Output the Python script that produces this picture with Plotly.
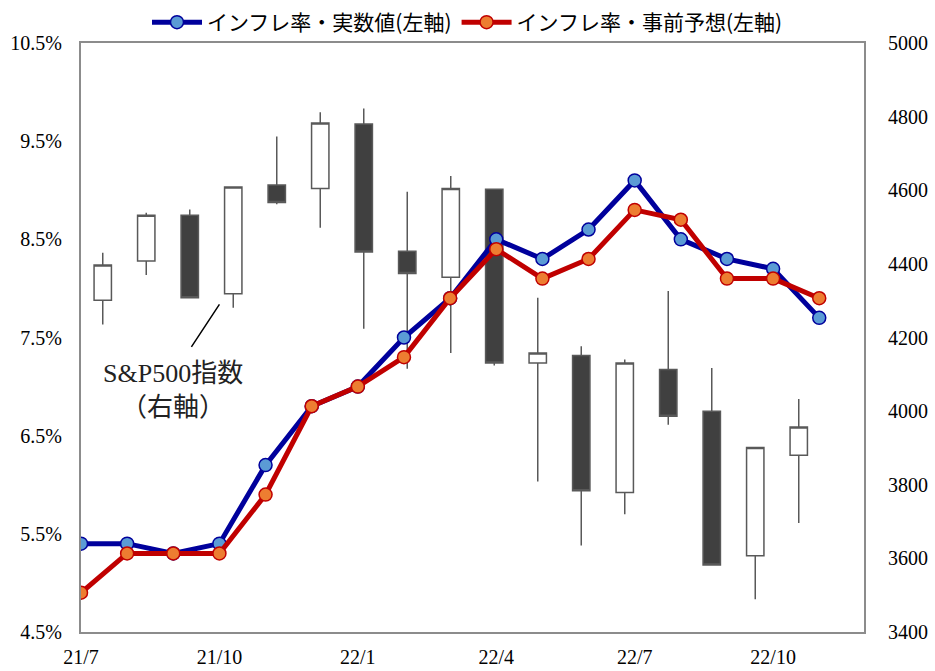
import plotly.graph_objects as go

# Month labels (release month), candles and inflation lines share them
MONTHS = ["21/7", "21/8", "21/9", "21/10", "21/11", "21/12",
          "22/1", "22/2", "22/3", "22/4", "22/5", "22/6",
          "22/7", "22/8", "22/9", "22/10", "22/11"]
TICK_MONTHS = ["21/7", "21/10", "22/1", "22/4", "22/7", "22/10"]

# US CPI inflation, % y/y (left axis)
CPI_ACTUAL   = [5.4, 5.4, 5.3, 5.4, 6.2, 6.8, 7.0, 7.5, 7.9, 8.5, 8.3, 8.6, 9.1, 8.5, 8.3, 8.2, 7.7]
CPI_FORECAST = [4.9, 5.3, 5.3, 5.3, 5.9, 6.8, 7.0, 7.3, 7.9, 8.4, 8.1, 8.3, 8.8, 8.7, 8.1, 8.1, 7.9]

# S&P500 monthly OHLC (right axis)
SP_OPEN  = [4301, 4408, 4532, 4319, 4614, 4605, 4780, 4434, 4364, 4603, 4131, 4151, 3779, 4113, 4000, 3607, 3880]
SP_HIGH  = [4430, 4539, 4548, 4609, 4746, 4812, 4822, 4596, 4639, 4603, 4308, 4176, 4140, 4326, 4117, 3903, 4033]
SP_LOW   = [4235, 4370, 4308, 4281, 4562, 4498, 4224, 4115, 4158, 4124, 3809, 3635, 3720, 3963, 3582, 3489, 3696]
SP_CLOSE = [4397, 4532, 4308, 4609, 4567, 4783, 4432, 4374, 4605, 4131, 4158, 3784, 4131, 3986, 3582, 3901, 3957]

BLUE_LINE   = "#00009c"
BLUE_MARK   = "#5b9bd5"
RED_LINE    = "#c00000"
RED_MARK    = "#ed7d31"
CANDLE_DARK = "#404040"
CANDLE_EDGE = "#595959"
FRAME       = "#8c8c8c"

SERIF = "Liberation Serif, Noto Sans CJK JP, serif"
GOTHIC = "Noto Sans CJK JP, sans-serif"

fig = go.Figure()

# ── candles: right axis, 18 category slots (last one empty) ──────────────
fig.add_trace(go.Candlestick(
    x=MONTHS, open=SP_OPEN, high=SP_HIGH, low=SP_LOW, close=SP_CLOSE,
    xaxis="x", yaxis="y",
    increasing=dict(fillcolor="white", line=dict(color=CANDLE_EDGE, width=1.5)),
    decreasing=dict(fillcolor=CANDLE_DARK, line=dict(color=CANDLE_EDGE, width=1.5)),
    whiskerwidth=0,
    showlegend=False,
    hoverinfo="skip",
))

# ── inflation lines: left axis ─────────────────────────────────────────
fig.add_trace(go.Scatter(
    x=MONTHS, y=CPI_ACTUAL, xaxis="x2", yaxis="y2",
    name="インフレ率・実数値(左軸)",
    mode="lines+markers",
    line=dict(color=BLUE_LINE, width=5),
    marker=dict(size=13, color=BLUE_MARK, line=dict(color=BLUE_LINE, width=1.5)),
))
fig.add_trace(go.Scatter(
    x=MONTHS, y=CPI_FORECAST, xaxis="x2", yaxis="y2",
    name="インフレ率・事前予想(左軸)",
    mode="lines+markers",
    line=dict(color=RED_LINE, width=5),
    marker=dict(size=13, color=RED_MARK, line=dict(color=RED_LINE, width=1.5)),
))

# annotation with leader line
fig.add_annotation(
    x="21/10", y=4290, xref="x2", yref="y",
    ax=-29, ay=44, text="", showarrow=True,
    arrowhead=0, arrowwidth=1.5, arrowcolor="black",
)
fig.add_annotation(
    x="21/9", y=4055, xref="x2", yref="y",
    text="S&P500指数<br>（右軸）", showarrow=False,
    font=dict(family=SERIF, size=26, color="#222"),
)

tickfont = dict(family=SERIF, size=20, color="black")

fig.update_layout(
    width=935, height=671,
    paper_bgcolor="white", plot_bgcolor="white",
    margin=dict(l=81, r=71, t=43, b=39, autoexpand=False),
    boxgap=0.43,
    xaxis=dict(
        type="category", categoryorder="array", categoryarray=MONTHS,
        range=[-0.5, 17.5], showticklabels=False, ticks="",
        showgrid=False, zeroline=False, automargin=False,
        showline=True, mirror=True, linecolor=FRAME, linewidth=2,
        rangeslider=dict(visible=False),
    ),
    xaxis2=dict(
        type="category", categoryorder="array", categoryarray=MONTHS,
        overlaying="x", anchor="y2", side="bottom",
        range=[0, 16.97], tickmode="array", tickvals=TICK_MONTHS, ticktext=TICK_MONTHS,
        ticks="", showgrid=False, zeroline=False, showline=False, automargin=False,
        tickfont=tickfont, ticklabelstandoff=11,
    ),
    yaxis=dict(
        side="right", range=[3400, 5000], dtick=200, tick0=3400,
        ticks="", showgrid=False, zeroline=False, automargin=False,
        showline=True, mirror=True, linecolor=FRAME, linewidth=2,
        tickfont=tickfont, ticklabelstandoff=18,
    ),
    yaxis2=dict(
        side="left", overlaying="y", anchor="x2",
        range=[4.5, 10.5], dtick=1, tick0=4.5, tickformat=".1f", ticksuffix="%",
        ticks="", showgrid=False, zeroline=False, showline=False, automargin=False,
        tickfont=tickfont, ticklabelstandoff=18,
    ),
    legend=dict(
        orientation="h", x=0.5, xanchor="center", xref="container",
        y=0.997, yanchor="top", yref="container",
        font=dict(family=GOTHIC, size=21, color="black"),
        bgcolor="rgba(0,0,0,0)", itemwidth=50,
    ),
)

# drop the default page margin so the figure sits at the window's corner
fig.write_html(
    "out.html",
    config={"displayModeBar": False},
    post_script="document.body.style.margin='0';",
)
